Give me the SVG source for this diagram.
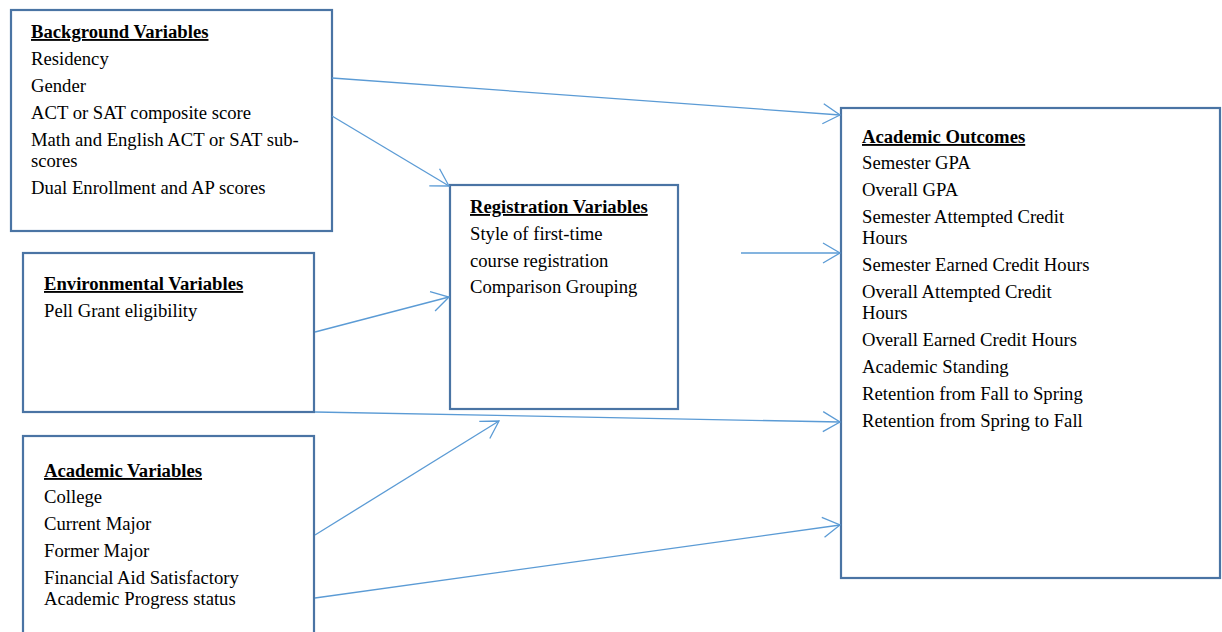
<svg xmlns="http://www.w3.org/2000/svg" width="1222" height="632" viewBox="0 0 1222 632">
<style>
.box{fill:#fff;stroke:#4a74a4;stroke-width:2.2}
.t{font-family:"Liberation Serif","Times New Roman",serif;font-size:18.67px;fill:#000}
.h{font-weight:bold;text-decoration:underline}
.c{fill:none;stroke:#5b9bd5;stroke-width:1.3}
</style>
<defs>
<marker id="ah" markerUnits="userSpaceOnUse" markerWidth="22" markerHeight="26" refX="18" refY="12" orient="auto" viewBox="0 0 22 26">
<path d="M1,2 L18,12 L1,22" fill="none" stroke="#5b9bd5" stroke-width="1.3"/>
</marker>
</defs>
<rect width="1222" height="632" fill="#fff"/>
<g id="background">
<rect class="box" x="11" y="10" width="321" height="221"/>
<text class="t h" x="31" y="38">Background Variables</text>
<text class="t" x="31" y="65">Residency</text>
<text class="t" x="31" y="92">Gender</text>
<text class="t" x="31" y="119">ACT or SAT composite score</text>
<text class="t" x="31" y="146">Math and English ACT or SAT sub-</text>
<text class="t" x="31" y="167">scores</text>
<text class="t" x="31" y="194">Dual Enrollment and AP scores</text>
</g>
<g id="environmental">
<rect class="box" x="23" y="253" width="291" height="159"/>
<text class="t h" x="44" y="290">Environmental Variables</text>
<text class="t" x="44" y="317">Pell Grant eligibility</text>
</g>
<g id="academic">
<rect class="box" x="23" y="436" width="291" height="210"/>
<text class="t h" x="44" y="477">Academic Variables</text>
<text class="t" x="44" y="503">College</text>
<text class="t" x="44" y="530">Current Major</text>
<text class="t" x="44" y="557">Former Major</text>
<text class="t" x="44" y="584">Financial Aid Satisfactory</text>
<text class="t" x="44" y="605">Academic Progress status</text>
</g>
<g id="registration">
<rect class="box" x="450" y="185" width="228" height="224"/>
<text class="t h" x="470" y="213">Registration Variables</text>
<text class="t" x="470" y="240">Style of first-time</text>
<text class="t" x="470" y="267">course registration</text>
<text class="t" x="470" y="293">Comparison Grouping</text>
</g>
<g id="outcomes">
<rect class="box" x="841" y="108" width="379" height="470"/>
<text class="t h" x="862" y="143">Academic Outcomes</text>
<text class="t" x="862" y="169">Semester GPA</text>
<text class="t" x="862" y="196">Overall GPA</text>
<text class="t" x="862" y="223">Semester Attempted Credit</text>
<text class="t" x="862" y="244">Hours</text>
<text class="t" x="862" y="271">Semester Earned Credit Hours</text>
<text class="t" x="862" y="298">Overall Attempted Credit</text>
<text class="t" x="862" y="319">Hours</text>
<text class="t" x="862" y="346">Overall Earned Credit Hours</text>
<text class="t" x="862" y="373">Academic Standing</text>
<text class="t" x="862" y="400">Retention from Fall to Spring</text>
<text class="t" x="862" y="427">Retention from Spring to Fall</text>
</g>
<g id="connectors">
<line class="c" x1="332" y1="78" x2="840" y2="115" marker-end="url(#ah)"/>
<line class="c" x1="332" y1="116" x2="449" y2="186" marker-end="url(#ah)"/>
<line class="c" x1="315" y1="332" x2="449" y2="297" marker-end="url(#ah)"/>
<line class="c" x1="315" y1="412" x2="840" y2="422" marker-end="url(#ah)"/>
<line class="c" x1="315" y1="535" x2="499" y2="421" marker-end="url(#ah)"/>
<line class="c" x1="315" y1="598" x2="840" y2="525" marker-end="url(#ah)"/>
<line class="c" x1="741" y1="253" x2="840" y2="253" marker-end="url(#ah)"/>
</g>
</svg>
